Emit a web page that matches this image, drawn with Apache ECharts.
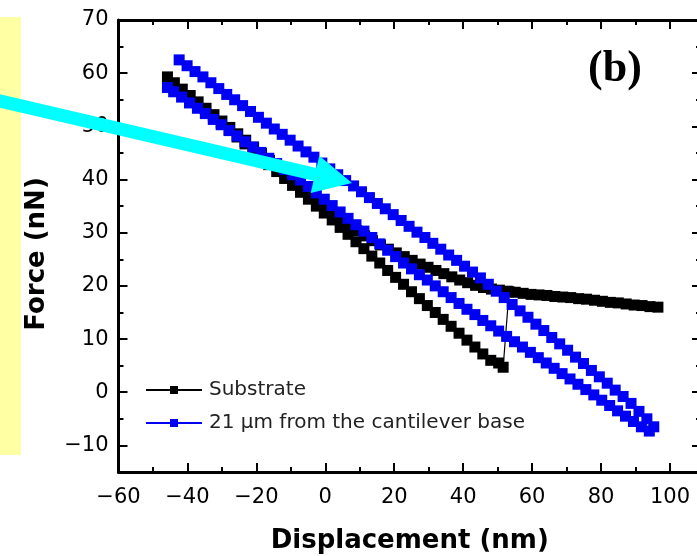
<!DOCTYPE html>
<html>
<head>
<meta charset="utf-8">
<script src="https://cdn.jsdelivr.net/npm/echarts@6/dist/echarts.min.js"></script>
<style>html,body{margin:0;padding:0;background:#fff}#c{width:697px;height:556px}</style>
</head>
<body>
<div id="c"></div>
<script>
// ---- data ----
const xTicksMajor = [-60, -40, -20, 0, 20, 40, 60, 80, 100];
const xTicksMinor = [-50, -30, -10, 10, 30, 50, 70, 90];
const yTicksMajor = [-10, 0, 10, 20, 30, 40, 50, 60, 70];
const yTicksMinor = [-5, 5, 15, 25, 35, 45, 55, 65];

const seriesNames = ['Substrate', '21 \u00b5m from the cantilever base'];

// Substrate: approach branch (right to left)
const subApproachX = [96.5, 94.2, 91.9, 89.6, 87.3, 85.0, 82.7, 80.4, 78.1, 75.8, 73.5, 71.2, 68.9, 66.6, 64.3, 62.0, 59.7, 57.4, 55.1, 52.8, 50.5, 48.2, 45.9, 43.6, 41.3, 39.0, 36.7, 34.4, 32.1, 29.8, 27.5, 25.2, 22.9, 20.6, 18.3, 16.0, 13.7, 11.4, 9.1, 6.8, 4.5, 2.2, -0.1, -2.4, -4.7, -7.0, -9.3, -11.6, -13.9, -16.2, -18.5, -20.8, -23.1, -25.4, -27.7, -30.0, -32.3, -34.6, -36.9, -39.2, -41.5, -43.8, -45.8];
const subApproachY = [16.0, 16.1, 16.3, 16.4, 16.6, 16.8, 16.9, 17.1, 17.3, 17.5, 17.6, 17.8, 17.9, 18.0, 18.2, 18.3, 18.4, 18.6, 18.8, 19.0, 19.2, 19.4, 19.7, 20.1, 20.6, 21.1, 21.7, 22.3, 22.9, 23.5, 24.1, 24.8, 25.5, 26.2, 26.9, 27.7, 28.5, 29.4, 30.4, 31.4, 32.4, 33.5, 34.6, 35.8, 37.1, 38.4, 39.7, 41.0, 42.3, 43.6, 44.9, 46.1, 47.4, 48.6, 49.8, 51.0, 52.2, 53.4, 54.6, 55.8, 57.0, 58.2, 59.3];
// Substrate: retract branch (left to right), last point is the jump-off
const subRetractX = [-44.0, -41.7, -39.4, -37.1, -34.8, -32.5, -30.2, -27.9, -25.6, -23.3, -21.0, -18.7, -16.4, -14.1, -11.8, -9.5, -7.2, -4.9, -2.6, -0.3, 2.0, 4.3, 6.6, 8.9, 11.2, 13.5, 15.8, 18.1, 20.4, 22.7, 25.0, 27.3, 29.6, 31.9, 34.2, 36.5, 38.8, 41.1, 43.4, 45.7, 48.0, 50.3, 51.6, 53.3];
const subRetractY = [58.0, 56.8, 55.6, 54.4, 53.2, 51.9, 50.6, 49.3, 48.0, 46.7, 45.4, 44.1, 42.8, 41.5, 40.2, 38.9, 37.6, 36.3, 35.0, 33.7, 32.4, 31.0, 29.7, 28.3, 27.0, 25.6, 24.3, 22.9, 21.6, 20.3, 18.9, 17.6, 16.3, 15.0, 13.7, 12.4, 11.1, 9.8, 8.5, 7.2, 6.0, 5.5, 4.7, 18.9];

// 21 um: upper branch (left to right)
const canUpperX = [-42.4, -40.1, -37.8, -35.5, -33.2, -30.9, -28.6, -26.3, -24.0, -21.7, -19.4, -17.1, -14.8, -12.5, -10.2, -7.9, -5.6, -3.3, -1.0, 1.3, 3.6, 5.9, 8.2, 10.5, 12.8, 15.1, 17.4, 19.7, 22.0, 24.3, 26.6, 28.9, 31.2, 33.5, 35.8, 38.1, 40.4, 42.7, 45.0, 47.3, 49.6, 51.9, 54.2, 56.5, 58.8, 61.1, 63.4, 65.7, 68.0, 70.3, 72.6, 74.9, 77.2, 79.5, 81.8, 84.1, 86.4, 88.7, 91.0, 93.3, 95.3];
const canUpperY = [62.5, 61.4, 60.3, 59.3, 58.2, 57.1, 56.0, 55.0, 53.9, 52.8, 51.7, 50.6, 49.5, 48.5, 47.4, 46.3, 45.2, 44.2, 43.1, 42.0, 40.9, 39.8, 38.8, 37.7, 36.6, 35.5, 34.5, 33.4, 32.3, 31.2, 30.1, 29.1, 28.0, 26.9, 25.8, 24.8, 23.7, 22.6, 21.5, 20.3, 19.0, 17.8, 16.5, 15.3, 14.1, 12.8, 11.6, 10.3, 9.1, 7.9, 6.6, 5.4, 4.1, 2.9, 1.7, 0.4, -0.8, -2.1, -3.6, -5.0, -6.5];
// 21 um: lower branch (right to left)
const canLowerX = [94.0, 91.7, 89.4, 87.1, 84.8, 82.5, 80.2, 77.9, 75.6, 73.3, 71.0, 68.7, 66.4, 64.1, 61.8, 59.5, 57.2, 54.9, 52.6, 50.3, 48.0, 45.7, 43.4, 41.1, 38.8, 36.5, 34.2, 31.9, 29.6, 27.3, 25.0, 22.7, 20.4, 18.1, 15.8, 13.5, 11.2, 8.9, 6.6, 4.3, 2.0, -0.3, -2.6, -4.9, -7.2, -9.5, -11.8, -14.1, -16.4, -18.7, -21.0, -23.3, -25.6, -27.9, -30.2, -32.5, -34.8, -37.1, -39.4, -41.7, -44.0, -45.8];
const canLowerY = [-7.3, -6.5, -5.5, -4.5, -3.5, -2.5, -1.5, -0.5, 0.5, 1.5, 2.5, 3.5, 4.5, 5.5, 6.5, 7.5, 8.5, 9.5, 10.5, 11.5, 12.5, 13.5, 14.6, 15.6, 16.7, 17.8, 18.9, 20.0, 21.1, 22.1, 23.2, 24.3, 25.5, 26.7, 27.9, 29.1, 30.3, 31.5, 32.7, 33.9, 35.1, 36.3, 37.5, 38.7, 39.9, 40.9, 41.9, 43.0, 44.0, 45.1, 46.1, 47.1, 48.2, 49.2, 50.3, 51.3, 52.4, 53.4, 54.4, 55.5, 56.5, 57.3];

// ---- build ----
function zip(xs, ys) { return xs.map((x, i) => [x, ys[i]]); }
const substrateData = zip(subApproachX, subApproachY).concat(zip(subRetractX, subRetractY));
const cantileverData = zip(canUpperX, canUpperY).concat(zip(canLowerX, canLowerY));

const minus = v => String(v).replace('-', '\u2212');
const tickFont = { fontFamily: 'DejaVu Sans', fontSize: 21, color: '#000' };
const titleFont = { fontFamily: 'DejaVu Sans', fontWeight: 'bold', fontSize: 26, color: '#000' };
const axLine = { show: true, onZero: false, lineStyle: { color: '#000', width: 3 } };
const noLine = { show: false, onZero: false };
const noSplit = { show: false };
const X_MAX = 109;

function xAx(pos, ticks, len, withLabel, extra) {
  return Object.assign({
    type: 'value', position: pos, min: -60, max: X_MAX,
    axisLine: withLabel !== null ? axLine : noLine,
    axisTick: { show: true, inside: true, length: len, customValues: ticks, lineStyle: { color: '#000', width: 2 } },
    axisLabel: withLabel ? Object.assign({ customValues: ticks, formatter: minus, margin: 15 }, tickFont) : { show: false },
    splitLine: noSplit
  }, extra || {});
}
function yAx(pos, ticks, len, withLabel, extra) {
  return Object.assign({
    type: 'value', position: pos, min: -15, max: 70,
    axisLine: withLabel !== null ? axLine : noLine,
    axisTick: { show: true, inside: true, length: len, customValues: ticks, lineStyle: { color: '#000', width: 2 } },
    axisLabel: withLabel ? Object.assign({ customValues: ticks, formatter: minus, margin: 10 }, tickFont) : { show: false },
    splitLine: noSplit
  }, extra || {});
}

const chart = echarts.init(document.getElementById('c'), null, { renderer: 'canvas' });

// arrow geometry (annotation, pixels)
const aStart = [-5, 99.8], aTip = [352, 183];
const dx = aTip[0] - aStart[0], dy = aTip[1] - aStart[1], L = Math.hypot(dx, dy);
const ux = dx / L, uy = dy / L, nx = -uy, ny = ux;
const headLen = 38, headHalf = 19, shaftHalf = 6.5;
const bx = aTip[0] - ux * headLen, by = aTip[1] - uy * headLen;
const arrowPts = [
  [aStart[0] + nx * shaftHalf, aStart[1] + ny * shaftHalf],
  [bx + nx * shaftHalf, by + ny * shaftHalf],
  [bx + nx * headHalf, by + ny * headHalf],
  aTip,
  [bx - nx * headHalf, by - ny * headHalf],
  [bx - nx * shaftHalf, by - ny * shaftHalf],
  [aStart[0] - nx * shaftHalf, aStart[1] - ny * shaftHalf]
];

chart.setOption({
  animation: false,
  backgroundColor: '#fff',
  grid: { left: 118.5, right: -4, top: 20, bottom: 84, containLabel: false, outerBoundsMode: 'none' },
  xAxis: [
    xAx('bottom', xTicksMajor, 9, true, {
      name: 'Displacement (nm)', nameLocation: 'middle', nameGap: 56, nameTextStyle: titleFont
    }),
    xAx('bottom', xTicksMinor, 5, null),
    xAx('top', xTicksMajor, 9, false),
    xAx('top', xTicksMinor, 5, null)
  ],
  yAxis: [
    yAx('left', yTicksMajor, 9, true, {
      name: 'Force (nN)', nameLocation: 'middle', nameGap: 68, nameRotate: 90,
      nameTextStyle: Object.assign({ padding: [0, 16, 0, 0] }, titleFont)
    }),
    yAx('left', yTicksMinor, 5, null),
    yAx('right', yTicksMajor, 9, false),
    yAx('right', yTicksMinor, 5, null)
  ],
  legend: {
    left: 145, top: 380, orient: 'vertical', itemGap: 13, padding: 0,
    itemWidth: 56, itemHeight: 10,
    textStyle: { fontFamily: 'DejaVu Sans', fontSize: 20, color: '#222', padding: [0, 0, 0, 2] },
    data: seriesNames
  },
  series: [
    {
      name: seriesNames[0], type: 'line', xAxisIndex: 0, yAxisIndex: 0,
      data: substrateData, symbol: 'rect', symbolSize: 11, showSymbol: true,
      itemStyle: { color: '#000' }, lineStyle: { color: '#000', width: 1.2 }, z: 2
    },
    {
      name: seriesNames[1], type: 'line', xAxisIndex: 0, yAxisIndex: 0,
      data: cantileverData, symbol: 'rect', symbolSize: 11, showSymbol: true,
      itemStyle: { color: '#0000f5' }, lineStyle: { color: '#0000f5', width: 1.2 }, z: 3
    }
  ],
  graphic: [
    { type: 'rect', z: -10, shape: { x: 0, y: 17, width: 21, height: 438 }, style: { fill: '#ffffa4' } },
    { type: 'polygon', z: 100, shape: { points: arrowPts }, style: { fill: '#00ffff' } },
    { type: 'text', z: 50, x: 615, y: 70, style: {
        text: '(b)', fontFamily: 'Liberation Serif', fontWeight: 'bold', fontSize: 44,
        fill: '#000', align: 'center', verticalAlign: 'middle' } }
  ]
});
</script>
</body>
</html>
